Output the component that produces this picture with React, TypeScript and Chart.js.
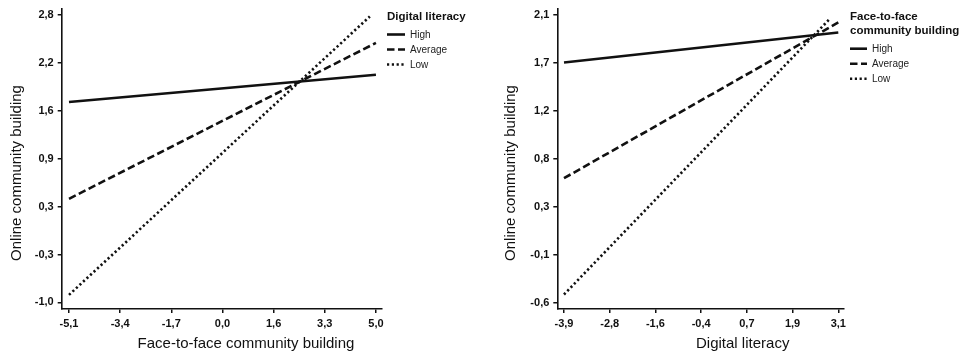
import React, { useEffect, useRef } from "react";
import { Chart, registerables } from "chart.js";

Chart.register(...registerables);

// ---------- Data ----------
const seriesLabels = ["High", "Average", "Low"];

// Left panel: moderator = Digital literacy
const leftX = [-5.1, 5.0];
const leftLowX = [-5.1, 4.8];
const leftHigh = [1.65, 2.01];
const leftAverage = [0.37, 2.43];
const leftLow = [-0.9, 2.78];
const leftXTicks = ["-5,1", "-3,4", "-1,7", "0,0", "1,6", "3,3", "5,0"];
const leftYTicks = ["-1,0", "-0,3", "0,3", "0,9", "1,6", "2,2", "2,8"];

// Right panel: moderator = Face-to-face community building
const rightX = [-3.9, 3.1];
const rightLowX = [-3.9, 2.9];
const rightHigh = [1.655, 1.935];
const rightAverage = [0.57, 2.03];
const rightLow = [-0.52, 2.07];
const rightXTicks = ["-3,9", "-2,8", "-1,6", "-0,4", "0,7", "1,9", "3,1"];
const rightYTicks = ["-0,6", "-0,1", "0,3", "0,8", "1,2", "1,7", "2,1"];

// ---------- Styles ----------
const FONT_TICK = '"Liberation Sans Narrow", "Arial Narrow", "Liberation Sans", Arial, sans-serif';
const FONT_MAIN = '"Liberation Sans", Arial, sans-serif';
const DASHES: number[][] = [[], [7.5, 3.5], [2.2, 2.6]];

const toNum = (s: string) => parseFloat(s.replace(",", "."));
const tickPositions = (labels: string[]) => {
  const a = toNum(labels[0]);
  const b = toNum(labels[labels.length - 1]);
  return labels.map((_, i) => a + (i * (b - a)) / (labels.length - 1));
};

type PanelCfg = {
  xs: number[][];
  ys: number[][];
  xTicks: string[];
  yTicks: string[];
  xMin: number;
  xMax: number;
  yMin: number;
  yMax: number;
  yAxisWidth: number;
  rightPad: number;
  xTitle: string;
  xTitlePos: [number, number];
  yTitle: string;
  yTitlePos: [number, number];
  legendTitle: string[];
  legendX: number;
  legendTitleY: number;
  legendItemY: number;
  legendLineLen: number;
};

const leftCfg: PanelCfg = {
  xs: [leftX, leftX, leftLowX],
  ys: [leftHigh, leftAverage, leftLow],
  xTicks: leftXTicks,
  yTicks: leftYTicks,
  xMin: -5.34,
  xMax: 5.19,
  yMin: -1.087,
  yMax: 2.879,
  yAxisWidth: 61.7,
  rightPad: 101.3,
  xTitle: "Face-to-face community building",
  xTitlePos: [246, 344],
  yTitle: "Online community building",
  yTitlePos: [16.5, 173],
  legendTitle: ["Digital literacy"],
  legendX: 387,
  legendTitleY: 17,
  legendItemY: 34.5,
  legendLineLen: 18,
};

const rightCfg: PanelCfg = {
  xs: [rightX, rightX, rightLowX],
  ys: [rightHigh, rightAverage, rightLow],
  xTicks: rightXTicks,
  yTicks: rightYTicks,
  xMin: -4.071,
  xMax: 3.228,
  yMin: -0.656,
  yMax: 2.156,
  yAxisWidth: 74.3,
  rightPad: 122.7,
  xTitle: "Digital literacy",
  xTitlePos: [259.7, 344],
  yTitle: "Online community building",
  yTitlePos: [28, 173],
  legendTitle: ["Face-to-face", "community building"],
  legendX: 367,
  legendTitleY: 17,
  legendItemY: 48.7,
  legendLineLen: 17,
};

function makeDecor(cfg: PanelCfg) {
  return {
    id: "decor",
    afterDraw(chart: any) {
      const ctx: CanvasRenderingContext2D = chart.ctx;
      ctx.save();
      ctx.fillStyle = "#111";
      // axis titles
      ctx.font = `15px ${FONT_MAIN}`;
      ctx.textAlign = "center";
      ctx.textBaseline = "middle";
      ctx.fillText(cfg.xTitle, cfg.xTitlePos[0], cfg.xTitlePos[1]);
      ctx.save();
      ctx.translate(cfg.yTitlePos[0], cfg.yTitlePos[1]);
      ctx.rotate(-Math.PI / 2);
      ctx.fillText(cfg.yTitle, 0, 0);
      ctx.restore();
      // legend title
      ctx.textAlign = "left";
      ctx.font = `bold 11.5px ${FONT_MAIN}`;
      cfg.legendTitle.forEach((t, i) => {
        ctx.fillText(t, cfg.legendX, cfg.legendTitleY + i * 14);
      });
      // legend items
      ctx.font = `10px ${FONT_MAIN}`;
      chart.data.datasets.forEach((ds: any, i: number) => {
        const y = cfg.legendItemY + i * 15;
        ctx.save();
        ctx.strokeStyle = ds.borderColor;
        ctx.lineWidth = ds.borderWidth;
        ctx.lineCap = "butt";
        ctx.setLineDash(ds.borderDash || []);
        ctx.beginPath();
        ctx.moveTo(cfg.legendX, y);
        ctx.lineTo(cfg.legendX + cfg.legendLineLen, y);
        ctx.stroke();
        ctx.restore();
        ctx.fillStyle = "#222";
        ctx.fillText(ds.label, cfg.legendX + cfg.legendLineLen + 5, y + 0.5);
      });
      ctx.restore();
    },
  };
}

function Panel({ cfg }: { cfg: PanelCfg }) {
  const ref = useRef<HTMLCanvasElement | null>(null);
  useEffect(() => {
    if (!ref.current) return;
    const xPos = tickPositions(cfg.xTicks);
    const yPos = tickPositions(cfg.yTicks);
    const axisGrid = {
      display: true,
      drawOnChartArea: false,
      drawTicks: true,
      tickLength: 4,
      color: "#111",
      lineWidth: 1.5,
    };
    const axisBorder = { display: true, color: "#111", width: 1.6 };
    const tickFont = { family: FONT_TICK, size: 11, weight: "bold" as const };
    const chart = new Chart(ref.current, {
      type: "line",
      data: {
        datasets: seriesLabels.map((label, i) => ({
          label,
          data: cfg.xs[i].map((x, j) => ({ x, y: cfg.ys[i][j] })),
          borderColor: "#111",
          borderWidth: 2.6,
          borderDash: DASHES[i],
          borderCapStyle: "butt" as const,
          pointRadius: 0,
          tension: 0,
          fill: false,
        })),
      },
      options: {
        animation: false,
        responsive: false,
        layout: { padding: { left: 0, top: 9, right: cfg.rightPad, bottom: 0 } },
        plugins: { legend: { display: false }, tooltip: { enabled: false } },
        scales: {
          x: {
            type: "linear",
            min: cfg.xMin,
            max: cfg.xMax,
            afterBuildTicks: (s: any) => {
              s.ticks = xPos.map((v) => ({ value: v }));
            },
            afterFit: (s: any) => {
              s.height = 44;
              s.paddingLeft = 0;
              s.paddingRight = 0;
            },
            ticks: {
              autoSkip: false,
              maxRotation: 0,
              padding: 4,
              color: "#111",
              font: tickFont,
              callback: (_v: any, i: number) => cfg.xTicks[i],
            },
            grid: axisGrid,
            border: axisBorder,
          },
          y: {
            type: "linear",
            min: cfg.yMin,
            max: cfg.yMax,
            afterBuildTicks: (s: any) => {
              s.ticks = yPos.map((v) => ({ value: v }));
            },
            afterFit: (s: any) => {
              s.width = cfg.yAxisWidth;
              s.paddingTop = 0;
              s.paddingBottom = 0;
            },
            ticks: {
              autoSkip: false,
              padding: 4,
              color: "#111",
              font: tickFont,
              callback: (_v: any, i: number) => cfg.yTicks[i],
            },
            grid: axisGrid,
            border: axisBorder,
          },
        },
      },
      plugins: [makeDecor(cfg)],
    } as any);
    return () => chart.destroy();
  }, [cfg]);
  return <canvas ref={ref} width={483} height={353} style={{ display: "block" }} />;
}

export default function App() {
  return (
    <div
      style={{
        position: "absolute",
        left: 0,
        top: 0,
        width: 966,
        height: 353,
        display: "flex",
        background: "#fff",
      }}
    >
      <Panel cfg={leftCfg} />
      <Panel cfg={rightCfg} />
    </div>
  );
}
